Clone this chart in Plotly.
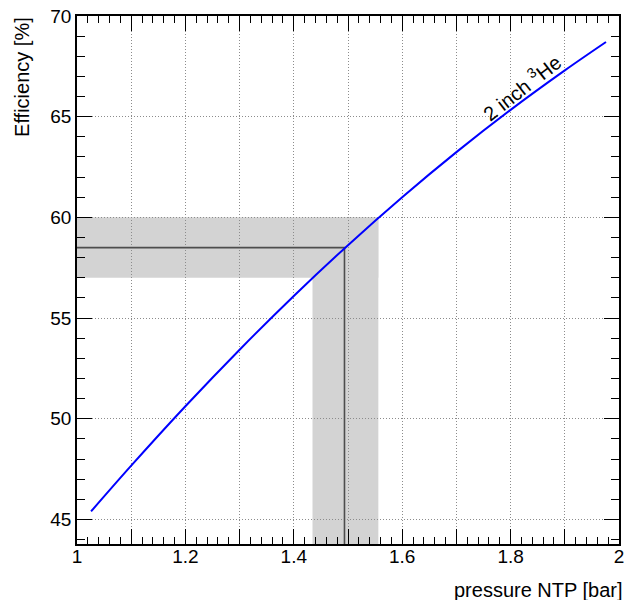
import plotly.graph_objects as go

# ---- data ----
pressure = [1.026, 1.1, 1.2, 1.3, 1.4, 1.5, 1.6, 1.7, 1.8, 1.9, 1.976]
efficiency = [45.40, 47.67, 50.62, 53.43, 56.10, 58.62, 61.00, 63.24, 65.34, 67.30, 68.71]

op_pressure = 1.4935
op_efficiency = 58.5
band_pressure = [1.4345, 1.556]
band_efficiency = [57.0, 60.0]

x_range = [1.0, 2.0]
y_range = [43.78, 70.0]

x_tickvals = [1.0, 1.1, 1.2, 1.3, 1.4, 1.5, 1.6, 1.7, 1.8, 1.9, 2.0]
x_ticktext = ["1", "", "1.2", "", "1.4", "", "1.6", "", "1.8", "", "2"]
y_tickvals = [45, 50, 55, 60, 65, 70]
y_ticktext = ["45", "50", "55", "60", "65", "70"]

curve_label = "2 inch <sup>3</sup>He"
x_title = "pressure NTP [bar]"
y_title = "Efficiency [%]"

FONT = "Liberation Sans, Arial, Helvetica, sans-serif"
GRAY_BAND = "#d3d3d3"

fig = go.Figure()

# crosshair lines at the operating point
fig.add_trace(go.Scatter(
    x=[x_range[0], op_pressure, op_pressure],
    y=[op_efficiency, op_efficiency, y_range[0]],
    mode="lines", line=dict(color="#4d4d4d", width=1.6),
    hoverinfo="skip", showlegend=False))

# efficiency curve
fig.add_trace(go.Scatter(
    x=pressure, y=efficiency, mode="lines",
    line=dict(color="#0000ff", width=2, shape="spline", smoothing=1.0),
    showlegend=False))

# gray uncertainty bands (below grid)
fig.add_shape(type="rect", xref="x", yref="y", layer="below",
              x0=x_range[0], x1=band_pressure[1],
              y0=band_efficiency[0], y1=band_efficiency[1],
              fillcolor=GRAY_BAND, line=dict(width=0))
fig.add_shape(type="rect", xref="x", yref="y", layer="below",
              x0=band_pressure[0], x1=band_pressure[1],
              y0=y_range[0], y1=band_efficiency[1],
              fillcolor=GRAY_BAND, line=dict(width=0))

axis_common = dict(
    showline=True, linecolor="black", linewidth=1.5, mirror="allticks",
    ticks="inside", tickcolor="black", tickwidth=1, ticklen=15,
    showgrid=True, gridcolor="#8c8c8c", gridwidth=1, griddash="1px,2px",
    zeroline=False, automargin=False,
    tickfont=dict(family=FONT, size=19, color="black"),
)

fig.update_xaxes(
    range=x_range, tickmode="array", tickvals=x_tickvals, ticktext=x_ticktext,
    minor=dict(ticks="inside", dtick=0.02, ticklen=7, tickcolor="black", tickwidth=1, showgrid=False),
    ticklabelstandoff=-6,
    **axis_common)
fig.update_yaxes(
    range=y_range, tickmode="array", tickvals=y_tickvals, ticktext=y_ticktext,
    minor=dict(ticks="inside", dtick=1, tick0=45, ticklen=8, tickcolor="black", tickwidth=1, showgrid=False),
    **axis_common)

fig.add_annotation(
    x=1.8197, y=66.5, xref="x", yref="y", text=curve_label, textangle=-38,
    showarrow=False, xanchor="center", yanchor="middle",
    font=dict(family=FONT, size=20, color="black"))

fig.add_annotation(
    x=1.011, y=-0.087, xref="paper", yref="paper", text=x_title,
    showarrow=False, xanchor="right", yanchor="middle",
    font=dict(family=FONT, size=20, color="black"))
fig.add_annotation(
    x=-0.1015, y=1.002, xref="paper", yref="paper", text=y_title, textangle=-90,
    showarrow=False, xanchor="center", yanchor="top",
    font=dict(family=FONT, size=20, color="black"))

fig.update_layout(
    width=627, height=600,
    margin=dict(l=77, r=8, t=16, b=56),
    paper_bgcolor="white", plot_bgcolor="white",
    showlegend=False,
)

fig.write_html("out.html", config={"displayModeBar": False},
               post_script="document.body.style.margin='0';")
